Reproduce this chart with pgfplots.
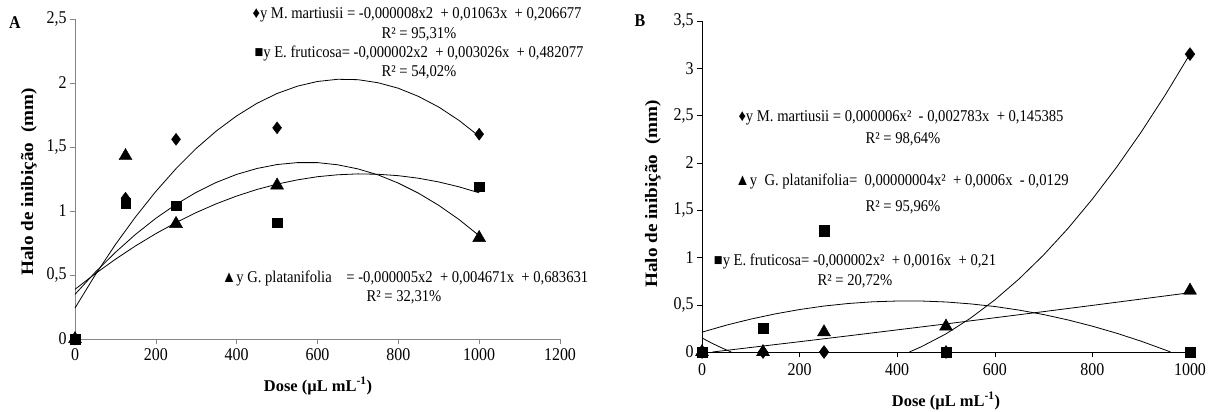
\documentclass[border=0pt]{standalone}
\usepackage{pgfplots}
\pgfplotsset{compat=1.18}
\usepackage{fontspec}
\setmainfont{Liberation Serif}
% the reference text is set a little tall and narrow (ticks, equations)
% and a little long for the rotated axis title
\newfontfamily\tallfont{Liberation Serif}[FakeStretch=0.89]
\newfontfamily\longfont{Liberation Serif}[FakeStretch=1.1]
\definecolor{axgray}{HTML}{868686}

\pgfplotsset{
  panel/.style={
    scale only axis, clip=false,
    axis lines=left,
    tick align=outside,
    major tick length=5bp,
    ticklabel style={font=\tallfont\fontsize{18}{18}\selectfont},
    /pgf/number format/.cd, use comma, 1000 sep={}, assume math mode=true,
  },
  trend/.style={black, line width=0.8bp, no marks},
}

\begin{document}
\begin{tikzpicture}
\path[use as bounding box] (0,0) rectangle (1216bp,-412bp);

% ---- panel A ----
\begin{axis}[panel, at={(75bp,-339bp)}, anchor=south west,
  width=485bp, height=320bp,
  xmin=0, xmax=1200, ymin=0, ymax=2.5,
  xtick={0,200,...,1200}, ytick={0,0.5,1,1.5,2,2.5},
  xticklabel style={yshift=-1bp},
  axis line style={-, draw=axgray}, tick style={draw=axgray, thin}]
\addplot[trend] coordinates {(0,0.242)(50,0.500)(100,0.738)(150,0.955)(200,1.153)(250,1.331)(300,1.489)(350,1.626)(400,1.743)(450,1.841)(500,1.918)(550,1.975)(600,2.012)(650,2.029)(700,2.026)(750,2.002)(800,1.959)(850,1.895)(900,1.812)(950,1.708)(1000,1.584)};
\addplot[trend] coordinates {(0,0.349)(50,0.521)(100,0.677)(150,0.818)(200,0.943)(250,1.052)(300,1.146)(350,1.224)(400,1.286)(450,1.332)(500,1.363)(550,1.378)(600,1.378)(650,1.361)(700,1.329)(750,1.282)(800,1.218)(850,1.139)(900,1.044)(950,0.934)(1000,0.807)};
\addplot[trend] coordinates {(0,0.388)(50,0.510)(100,0.623)(150,0.728)(200,0.823)(250,0.910)(300,0.988)(350,1.057)(400,1.117)(450,1.168)(500,1.210)(550,1.243)(600,1.268)(650,1.283)(700,1.290)(750,1.287)(800,1.276)(850,1.256)(900,1.227)(950,1.189)(1000,1.142)};
% M. martiusii
\addplot[only marks, mark=diamond*, mark size=6bp, black] coordinates {(0,0)(125,1.10)(250,1.56)(500,1.65)(1000,1.60)};
% G. platanifolia
\addplot[only marks, mark=triangle*, mark size=7.5bp, black] coordinates {(0,0)(125,1.43)(250,0.90)(500,1.20)(1000,0.79)};
% E. fruticosa
\addplot[only marks, mark=square*, mark size=4.8bp, black] coordinates {(0,0)(125,1.06)(250,1.04)(500,0.91)(1000,1.19)};
\end{axis}

% ---- panel B ----
\begin{axis}[panel, at={(702bp,-352bp)}, anchor=south west,
  width=488bp, height=331bp,
  xmin=0, xmax=1000, ymin=0, ymax=3.5,
  xtick={0,200,...,1000}, ytick={0,0.5,1,1.5,2,2.5,3,3.5},
  xticklabel style={yshift=-3bp},
  axis line style={-, draw=black}, tick style={draw=black, thin}]
\addplot[trend] coordinates {(0,0.149)(10,0.121)(20,0.094)(30,0.069)(40,0.045)(50,0.022)(60,0)};
\addplot[trend] coordinates {(425,0)(450,0.057)(500,0.192)(550,0.357)(600,0.551)(650,0.774)(700,1.026)(750,1.307)(800,1.618)(850,1.957)(900,2.326)(950,2.724)(1000,3.151)};
\addplot[trend] coordinates {(0,0.210)(50,0.284)(100,0.348)(150,0.403)(200,0.449)(250,0.486)(300,0.513)(350,0.531)(400,0.539)(450,0.539)(500,0.529)(550,0.509)(600,0.481)(650,0.443)(700,0.396)(750,0.339)(800,0.273)(850,0.198)(900,0.114)(950,0.020)(960,0)};
\addplot[trend] coordinates {(21.5,0)(100,0.048)(200,0.109)(300,0.171)(400,0.234)(500,0.297)(600,0.362)(700,0.427)(800,0.493)(900,0.560)(1000,0.627)};
% M. martiusii
\addplot[only marks, mark=diamond*, mark size=6.5bp, black] coordinates {(0,0)(125,0)(250,0)(500,0)(1000,3.15)};
% G. platanifolia
\addplot[only marks, mark=triangle*, mark size=7.5bp, black] coordinates {(0,0)(125,0)(250,0.21)(500,0.27)(1000,0.65)};
% E. fruticosa
\addplot[only marks, mark=square*, mark size=5.3bp, black] coordinates {(0,0)(125,0.25)(250,1.28)(500,0)(1000,0)};
\end{axis}

% panel letters, axis titles
\node[font=\tallfont\bfseries\fontsize{18}{18}\selectfont] at (15bp,-23bp) {A};
\node[font=\tallfont\bfseries\fontsize{18}{18}\selectfont] at (640bp,-21bp) {B};
\node[rotate=90, font=\longfont\bfseries\fontsize{17.5}{17.5}\selectfont] at (29bp,-182bp) {Halo de inibição\ \ (mm)};
\node[rotate=90, font=\longfont\bfseries\fontsize{17.5}{17.5}\selectfont] at (653bp,-194bp) {Halo de inibição\ \ (mm)};
\node[font=\bfseries\fontsize{16.5}{16.5}\selectfont] at (318bp,-386bp) {Dose (µL mL\textsuperscript{-1})};
\node[font=\bfseries\fontsize{16.5}{16.5}\selectfont] at (946bp,-401bp) {Dose (µL mL\textsuperscript{-1})};

% trendline equations
\begin{scope}[every node/.style={font=\tallfont\fontsize{16.5}{16.5}\selectfont, inner sep=0pt}]
\node at (417bp,-15bp) {♦y M. martiusii = -0,000008x2\ \ + 0,01063x\ \ + 0,206677};
\node at (419bp,-34bp) {R² = 95,31\%};
\node at (419bp,-53bp) {■y E. fruticosa= -0,000002x2\ \ + 0,003026x\ \ + 0,482077};
\node at (419bp,-72bp) {R² = 54,02\%};
\node at (405bp,-278bp) {▲y G. platanifolia\ \ \ \ = -0,000005x2\ \ + 0,004671x\ \ + 0,683631};
\node at (404bp,-297bp) {R² = 32,31\%};
\node at (901bp,-118bp) {♦y M. martiusii\ = 0,000006x²\ \ - 0,002783x\ \ + 0,145385};
\node at (903bp,-139bp) {R² = 98,64\%};
\node at (902bp,-181bp) {▲y\ \ G. platanifolia=\ \ 0,00000004x²\ \ + 0,0006x\ \ - 0,0129};
\node at (903bp,-207bp) {R² = 95,96\%};
\node at (855bp,-261bp) {■y E. fruticosa= -0,000002x²\ \ + 0,0016x\ \ + 0,21};
\node at (855bp,-281bp) {R² = 20,72\%};
\end{scope}
\end{tikzpicture}
\end{document}
